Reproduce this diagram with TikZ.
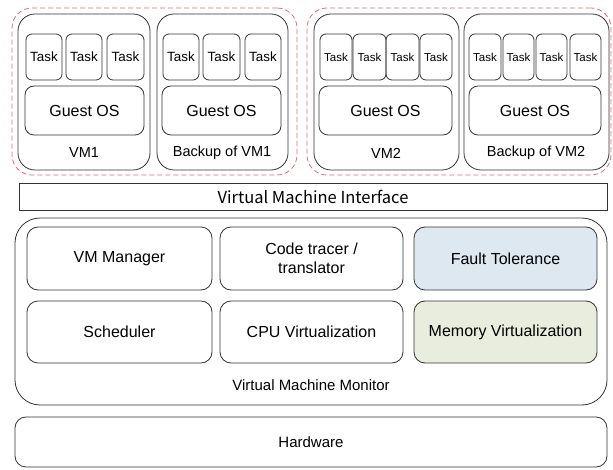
\documentclass[tikz,border=0pt]{standalone}
\usepackage{fontspec}
\setmainfont{Liberation Sans}
\newfontfamily\kfont{Noto Sans CJK KR}
\definecolor{grpred}{HTML}{EA6B66}
\definecolor{ftblue}{HTML}{DEE8F0}
\definecolor{mvgreen}{HTML}{E9EDDD}
\definecolor{edge}{HTML}{333333}
\newcommand\bx[7]{%
  \pgfmathsetmacro\bxw{#4-#2}\pgfmathsetmacro\bxh{#5-#3}%
  \pgfmathsetmacro\bxx{(#2+#4)/2}\pgfmathsetmacro\bxy{(#3+#5)/2}%
  \node[#6, minimum width=\bxw pt, minimum height=\bxh pt] (#1) at (\bxx,\bxy) {#7};}
\tikzset{
  base/.style={draw=edge, line width=0.8pt, inner sep=0pt, outer sep=0pt, align=center},
  grpbox/.style={base, draw=grpred, dash pattern=on 5pt off 3pt, rounded corners=20pt},
  vmbox/.style={base, rounded corners=17pt},
  taskbox/.style={base, rounded corners=6pt},
  osbox/.style={base, rounded corners=9pt, font=\fontsize{16}{18}\selectfont},
  modbox/.style={base, rounded corners=11pt, font=\fontsize{16}{19}\selectfont},
  bigbox/.style={base, rounded corners=25pt},
  hwbox/.style={base, rounded corners=11pt, font=\fontsize{15}{18}\selectfont},
  ifbox/.style={base, font=\kfont\fontsize{16.5}{18}\selectfont},
  lbl/.style={inner sep=0pt, font=\fontsize{14.5}{17}\selectfont},
}
\begin{document}
\begin{tikzpicture}[x=1pt,y=-1pt]
\useasboundingbox (0,0) rectangle (613,470);
% groups
\bx{g1}{12}{8}{297}{175}{grpbox}{}
\bx{g2}{307}{8}{611}{175}{grpbox}{}
% VM1
\bx{vm1}{18}{14}{150}{170}{vmbox}{}
\bx{vm1t1}{26}{34}{62}{80}{taskbox, font=\fontsize{13.4}{15}\selectfont}{Task}
\bx{vm1t2}{66}{34}{102}{80}{taskbox, font=\fontsize{13.4}{15}\selectfont}{Task}
\bx{vm1t3}{107}{34}{144}{80}{taskbox, font=\fontsize{13.4}{15}\selectfont}{Task}
\bx{vm1os}{25}{86}{144}{135}{osbox}{Guest OS}
\node[lbl] (vm1l) at (84,153) {VM1};
% Backup VM1
\bx{bk1}{157}{14}{288}{170}{vmbox}{}
\bx{bk1t1}{163}{34}{199}{80}{taskbox, font=\fontsize{13.4}{15}\selectfont}{Task}
\bx{bk1t2}{203}{34}{240}{80}{taskbox, font=\fontsize{13.4}{15}\selectfont}{Task}
\bx{bk1t3}{245}{34}{281}{80}{taskbox, font=\fontsize{13.4}{15}\selectfont}{Task}
\bx{bk1os}{162}{86}{281}{135}{osbox}{Guest OS}
\node[lbl] (bk1l) at (222,153) {Backup of VM1};
% VM2
\bx{vm2}{314}{14}{459}{170}{vmbox}{}
\bx{vm2t1}{320}{34}{352}{80}{taskbox, font=\fontsize{11.5}{14}\selectfont}{Task}
\bx{vm2t2}{353}{34}{386}{80}{taskbox, font=\fontsize{11.5}{14}\selectfont}{Task}
\bx{vm2t3}{386}{34}{419}{80}{taskbox, font=\fontsize{11.5}{14}\selectfont}{Task}
\bx{vm2t4}{420}{34}{452}{80}{taskbox, font=\fontsize{11.5}{14}\selectfont}{Task}
\bx{vm2os}{319}{86}{452}{135}{osbox}{Guest OS}
\node[lbl] (vm2l) at (386,153) {VM2};
% Backup VM2
\bx{bk2}{464}{14}{609}{170}{vmbox}{}
\bx{bk2t1}{469}{34}{501}{80}{taskbox, font=\fontsize{11.5}{14}\selectfont}{Task}
\bx{bk2t2}{503}{34}{534}{80}{taskbox, font=\fontsize{11.5}{14}\selectfont}{Task}
\bx{bk2t3}{536}{34}{567}{80}{taskbox, font=\fontsize{11.5}{14}\selectfont}{Task}
\bx{bk2t4}{570}{34}{601}{80}{taskbox, font=\fontsize{11.5}{14}\selectfont}{Task}
\bx{bk2os}{469}{86}{601}{135}{osbox}{Guest OS}
\node[lbl] (bk2l) at (536,153) {Backup of VM2};
% interface
\bx{vmi}{19}{183}{607}{210}{ifbox}{Virtual Machine Interface}
% VMM
\bx{vmm}{15}{218}{607}{405}{bigbox}{}
\bx{mgr}{27}{227}{212}{290}{modbox}{VM Manager}
\bx{ctr}{220}{227}{403}{290}{modbox}{Code tracer /\\translator}
\bx{ft}{414}{227}{597}{290}{modbox, fill=ftblue}{Fault Tolerance}
\bx{sch}{27}{301}{212}{363}{modbox}{Scheduler}
\bx{cpu}{220}{301}{403}{363}{modbox}{CPU Virtualization}
\bx{mem}{414}{301}{597}{363}{modbox, fill=mvgreen}{Memory Virtualization}
\node[lbl, font=\fontsize{15}{18}\selectfont] (vmml) at (311,385) {Virtual Machine Monitor};
% hardware
\bx{hw}{15}{417}{607}{467}{hwbox}{Hardware}
\end{tikzpicture}
\end{document}
